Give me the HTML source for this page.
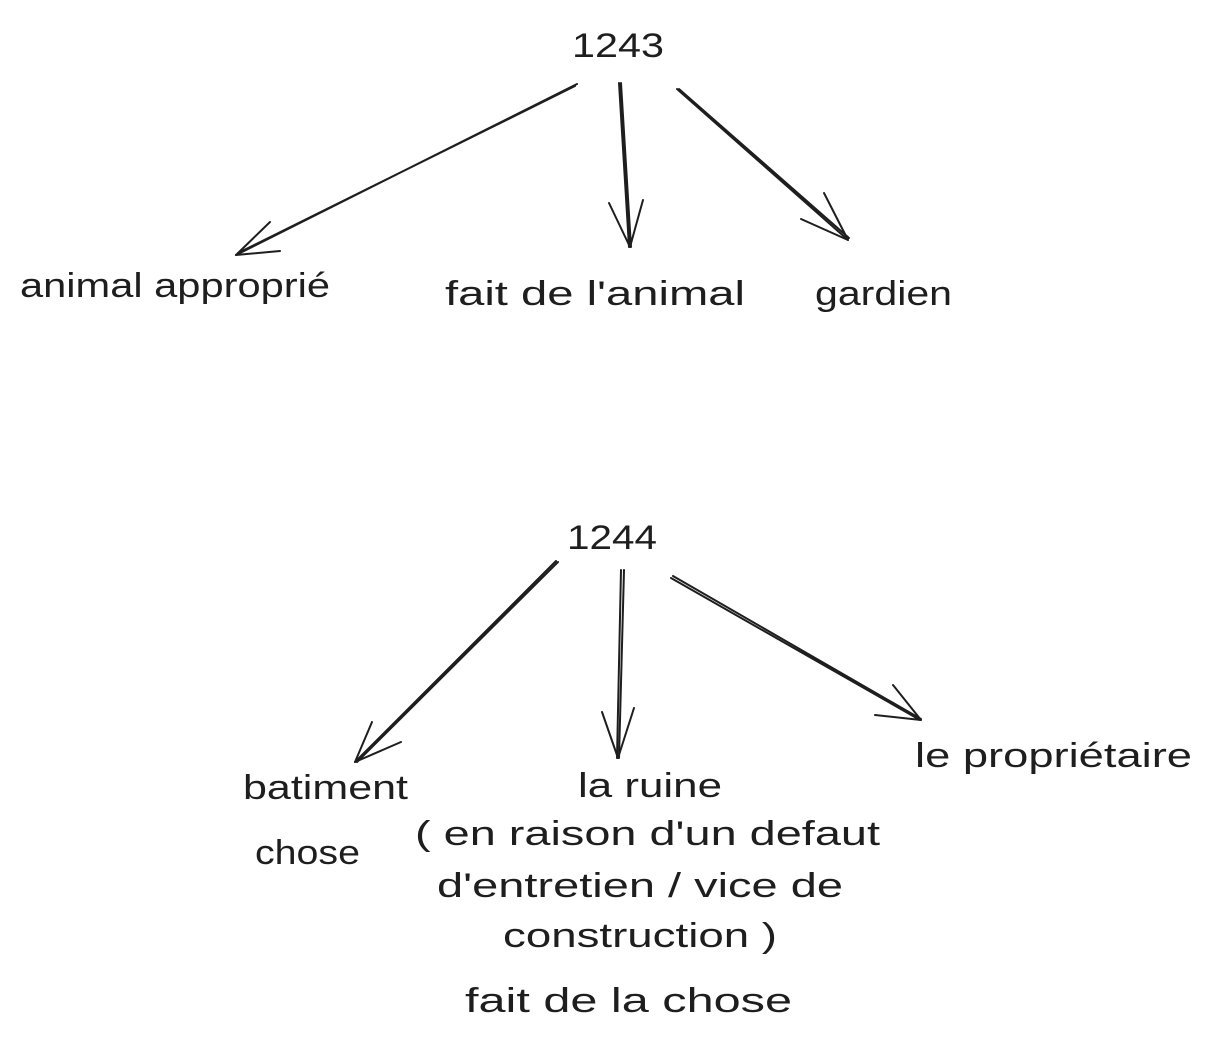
<!DOCTYPE html>
<html><head><meta charset="utf-8"><style>
html,body{margin:0;padding:0;background:#fff;}
svg{display:block}
text{font-family:"Liberation Sans",sans-serif;font-size:34px;fill:#1e1e1e;}
</style></head><body>
<svg width="1211" height="1045" viewBox="0 0 1211 1045">
<g stroke="#1e1e1e" stroke-width="2" fill="none" stroke-linecap="round">
<path d="M577 84 L236 255 M575 86 L238 253"/>
<path d="M236 255 L270 222 M236 255 L280 251"/>
<path d="M619 83 L629 247 M621 83 L631 247"/>
<path d="M630 247 L609 203 M630 247 L643 200"/>
<path d="M677 89 L848 240 M679 89 L849 238"/>
<path d="M848 240 L801 219 M848 240 L824 193"/>
<path d="M556 561 L355 762 M558 562 L357 762"/>
<path d="M355 762 L372 722 M355 762 L401 742"/>
<path d="M621 570 L617 758 M624 570 L619 758"/>
<path d="M618 758 L602 712 M618 758 L634 708"/>
<path d="M671 578 L920 720 M673 576 L921 719"/>
<path d="M921 720 L875 715 M921 720 L893 685"/>
</g>
<text x="572" y="57" textLength="92" lengthAdjust="spacingAndGlyphs">1243</text>
<text x="20" y="297" textLength="310" lengthAdjust="spacingAndGlyphs">animal approprié</text>
<text x="445" y="305" textLength="300" lengthAdjust="spacingAndGlyphs">fait de l'animal</text>
<text x="815" y="305" textLength="137" lengthAdjust="spacingAndGlyphs">gardien</text>
<text x="567" y="549" textLength="90" lengthAdjust="spacingAndGlyphs">1244</text>
<text x="243" y="799" textLength="165" lengthAdjust="spacingAndGlyphs">batiment</text>
<text x="255" y="864" textLength="105" lengthAdjust="spacingAndGlyphs">chose</text>
<text x="578" y="797" textLength="144" lengthAdjust="spacingAndGlyphs">la ruine</text>
<text x="415" y="845" textLength="465" lengthAdjust="spacingAndGlyphs">( en raison d'un defaut</text>
<text x="437" y="897" textLength="406" lengthAdjust="spacingAndGlyphs">d'entretien / vice de</text>
<text x="503" y="947" textLength="274" lengthAdjust="spacingAndGlyphs">construction )</text>
<text x="465" y="1012" textLength="327" lengthAdjust="spacingAndGlyphs">fait de la chose</text>
<text x="915" y="767" textLength="277" lengthAdjust="spacingAndGlyphs">le propriétaire</text>
</svg>
</body></html>
